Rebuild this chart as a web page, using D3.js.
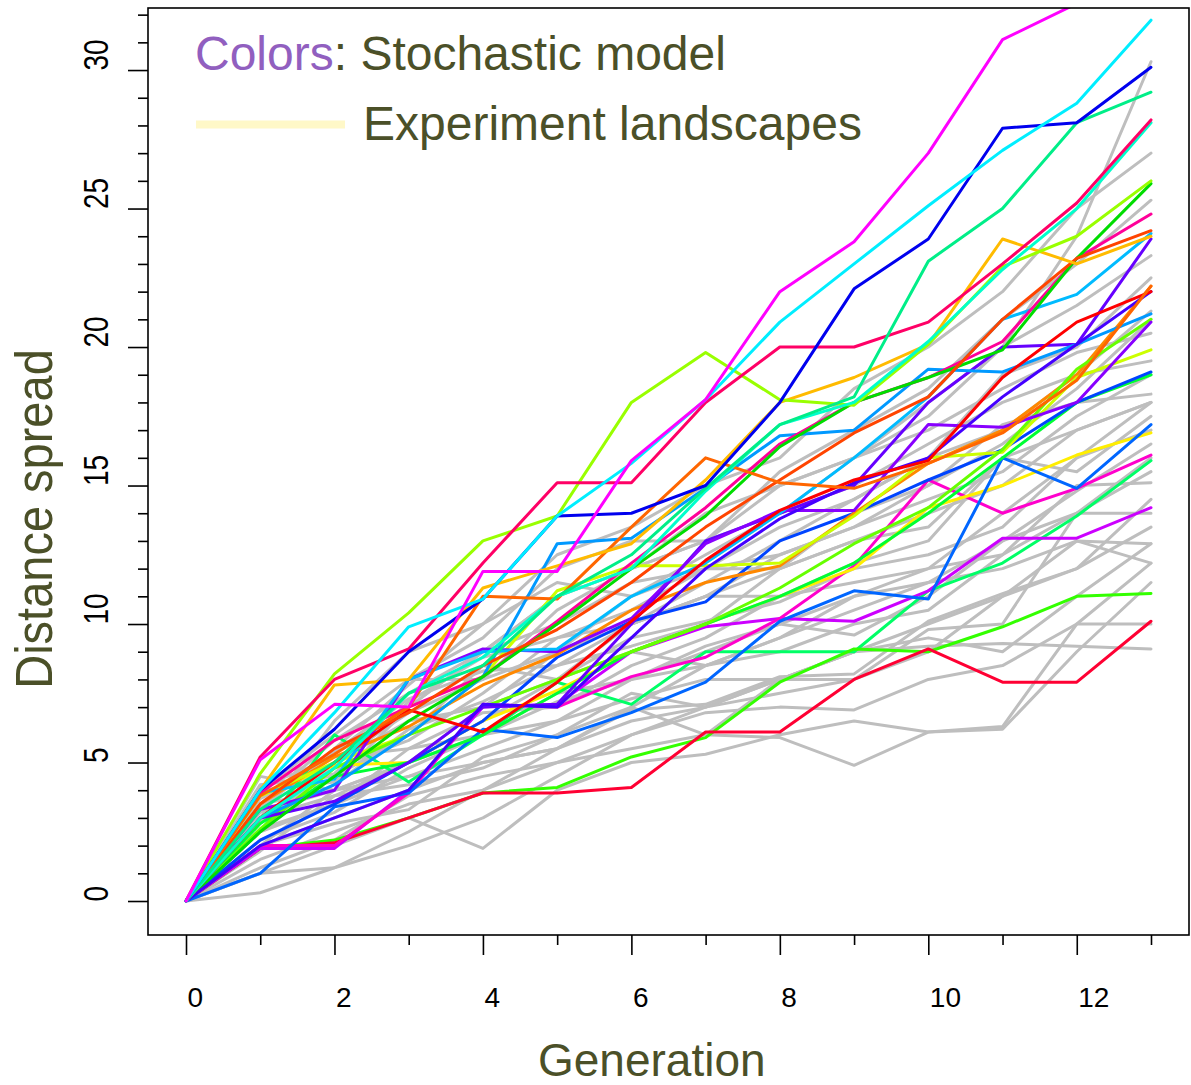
<!DOCTYPE html>
<html>
<head>
<meta charset="utf-8">
<script src="https://cdn.jsdelivr.net/npm/d3@7"></script>
<style>
  html, body { margin: 0; padding: 0; background: #ffffff; }
  svg text { font-family: "Liberation Sans", Arial, Helvetica, sans-serif; }
</style>
</head>
<body>
<svg id="chart" width="1191" height="1085"></svg>
<script>
// ---------- data ----------
const generation = [0, 1, 2, 3, 4, 5, 6, 7, 8, 9, 10, 11, 12, 13];
const xTickValues = [0, 1, 2, 3, 4, 5, 6, 7, 8, 9, 10, 11, 12, 13];
const xTickLabels = ["0", "", "2", "", "4", "", "6", "", "8", "", "10", "", "12", ""];
const yMajorTicks = [0, 5, 10, 15, 20, 25, 30];
const yMinorTicks = [0,1,2,3,4,5,6,7,8,9,10,11,12,13,14,15,16,17,18,19,20,21,22,23,24,25,26,27,28,29,30,31,32];

// Experiment landscapes (gray)
const exp01 = [0, 0.3, 1.2, 2.0, 3.0, 4.5, 6.0, 7.0, 8.0, 9.0, 9.2, 9.3, 9.2, 9.1];
const exp02 = [0, 1.0, 1.2, 2.5, 4.0, 5.0, 5.5, 6.0, 5.9, 4.9, 6.1, 6.3, 10.0, 12.2];
const exp03 = [0, 1.0, 2.0, 3.0, 1.9, 4.0, 5.0, 5.3, 6.0, 6.5, 6.1, 6.2, 9.0, 11.5];
const exp04 = [0, 1.5, 2.5, 3.5, 4.0, 5.5, 6.5, 7.0, 7.5, 8.0, 9.0, 11.0, 13.0, 12.9];
const exp05 = [0, 2.0, 3.0, 4.0, 5.0, 5.5, 6.9, 7.1, 8.1, 8.2, 10.1, 11.1, 12.0, 13.5];
const exp06 = [0, 2.5, 3.5, 4.5, 5.5, 6.5, 7.3, 8.0, 8.0, 8.0, 9.8, 10.0, 14.0, 14.0];
const exp07 = [0, 3.0, 3.8, 4.2, 4.8, 6.0, 7.0, 8.5, 9.0, 10.0, 10.5, 12.5, 15.0, 15.1];
const exp08 = [0, 2.2, 3.2, 4.8, 6.0, 7.2, 8.0, 9.0, 10.0, 9.6, 11.0, 13.0, 14.8, 16.5];
const exp09 = [0, 3.5, 4.0, 5.0, 7.0, 8.0, 9.5, 10.1, 10.8, 12.0, 12.5, 13.5, 16.0, 17.0];
const exp10 = [0, 4.2, 4.5, 6.0, 8.5, 8.0, 10.0, 11.0, 11.0, 12.2, 13.0, 16.0, 15.5, 17.5];
const exp11 = [0, 3.0, 5.0, 6.5, 7.0, 9.0, 10.0, 11.0, 12.0, 13.0, 14.0, 15.0, 17.0, 18.0];
const exp12 = [0, 4.0, 4.3, 7.0, 9.0, 10.0, 11.5, 12.0, 12.5, 13.5, 15.0, 17.2, 18.0, 18.3];
const exp13 = [0, 3.3, 5.5, 7.8, 10.0, 11.5, 11.0, 12.5, 14.0, 15.0, 16.5, 18.0, 19.0, 19.5];
const exp14 = [0, 4.5, 4.0, 8.0, 8.0, 10.5, 12.0, 13.0, 15.0, 16.0, 17.0, 18.5, 19.8, 20.5];
const exp15 = [0, 2.8, 4.8, 5.8, 7.5, 9.5, 10.0, 11.5, 13.0, 14.5, 16.0, 17.0, 19.0, 21.3];
const exp16 = [0, 3.5, 5.8, 7.5, 9.0, 11.0, 12.0, 14.0, 15.0, 16.0, 17.5, 20.0, 21.5, 23.3];
const exp17 = [0, 4.0, 6.0, 8.0, 9.5, 12.0, 13.0, 13.0, 15.5, 17.0, 18.5, 21.0, 23.0, 25.3];
const exp18 = [0, 3.0, 6.5, 9.0, 10.0, 12.5, 13.5, 15.0, 16.0, 18.5, 20.0, 22.0, 25.0, 27.0];
const exp19 = [0, 2.5, 5.0, 7.0, 9.0, 11.0, 12.0, 13.0, 14.0, 16.0, 18.0, 20.0, 24.0, 30.3];
const exp20 = [0, 1.8, 3.8, 5.0, 6.0, 6.5, 8.0, 8.5, 9.5, 10.5, 11.5, 12.0, 13.0, 12.2];
const exp21 = [0, 2.0, 2.8, 3.3, 5.2, 6.0, 7.5, 7.0, 8.0, 9.0, 10.0, 11.0, 12.0, 14.5];
const exp22 = [0, 4.1, 5.2, 5.5, 6.8, 7.0, 8.5, 9.5, 11.0, 11.5, 12.0, 14.0, 16.0, 18.0];
const exp23 = [0, 3.2, 4.0, 4.5, 5.0, 5.5, 7.0, 6.0, 8.0, 9.0, 9.5, 9.0, 11.0, 12.9];
const exp24 = [0, 2.9, 4.2, 6.2, 7.2, 8.5, 9.2, 10.0, 12.0, 13.0, 13.5, 16.0, 17.0, 18.0];
const exp25 = [0, 3.7, 5.0, 6.8, 8.0, 9.0, 11.0, 12.0, 12.0, 14.0, 15.0, 16.5, 18.5, 21.0];
const exp26 = [0, 1.2, 2.2, 3.8, 4.5, 5.0, 6.0, 6.8, 7.0, 6.9, 8.0, 8.5, 10.0, 10.0];
const exp27 = [0, 2.6, 3.5, 5.5, 6.0, 7.5, 8.0, 9.2, 10.0, 11.0, 11.5, 13.0, 14.0, 15.5];
const exp28 = [0, 3.9, 4.6, 7.2, 8.8, 9.5, 10.5, 12.0, 13.5, 14.5, 16.0, 19.0, 20.0, 22.5];
const exp29 = [0, 3.4, 5.4, 7.3, 8.3, 8.5, 10.0, 11.0, 12.5, 13.5, 14.5, 15.5, 17.5, 19.0];
const exp30 = [0, 2.0, 4.0, 5.0, 6.5, 8.0, 9.0, 8.5, 9.5, 11.0, 12.0, 12.5, 14.0, 16.0];

// Stochastic model runs (colours)
const runMagenta    = [0, 5.1, 7.1, 7.0, 11.9, 11.9, 15.9, 18.1, 22.0, 23.8, 27.0, 31.1, 32.4, 33.5];
const runCyan       = [0, 4.0, 6.8, 9.9, 10.9, 13.9, 15.8, 18.1, 20.9, 23.0, 25.1, 27.1, 28.8, 31.8];
const runBlue       = [0, 4.0, 6.2, 9.0, 10.9, 13.9, 14.0, 15.0, 18.0, 22.1, 23.9, 27.9, 28.1, 30.1];
const runSpring     = [0, 3.3, 5.0, 7.5, 8.5, 11.0, 12.5, 14.9, 17.2, 18.2, 23.1, 25.0, 28.1, 29.2];
const runTurquoise  = [0, 3.0, 4.8, 7.5, 8.8, 11.0, 12.0, 14.8, 17.2, 18.0, 20.2, 22.8, 25.0, 28.1];
const runCrimson    = [0, 5.2, 8.0, 9.1, 12.2, 15.1, 15.1, 18.0, 20.0, 20.0, 20.9, 23.0, 25.2, 28.2];
const runChartreuse = [0, 4.6, 8.2, 10.4, 13.0, 13.9, 18.0, 19.8, 18.1, 17.9, 20.1, 22.9, 24.0, 26.0];
const runAmber      = [0, 4.0, 7.8, 8.0, 11.3, 12.1, 12.9, 15.2, 18.0, 18.9, 20.1, 23.9, 23.0, 24.0];
const runOrangeRed  = [0, 3.8, 5.3, 7.0, 11.0, 10.9, 13.5, 16.0, 15.1, 14.9, 15.8, 16.9, 18.8, 22.2];
const runRedOrange  = [0, 3.5, 5.5, 6.8, 8.5, 9.8, 11.5, 13.5, 15.2, 16.9, 18.2, 21.0, 23.2, 24.2];
const runRed        = [0, 3.0, 5.0, 6.9, 6.1, 7.9, 10.1, 12.3, 14.1, 15.2, 15.9, 18.9, 20.9, 22.0];
const runIndigo     = [0, 2.0, 3.0, 4.0, 7.1, 7.0, 9.5, 12.0, 13.8, 15.1, 16.0, 18.2, 20.1, 22.0];
const runGreen      = [0, 2.5, 4.5, 6.5, 8.1, 10.0, 12.0, 13.9, 16.4, 18.0, 18.9, 19.9, 23.2, 25.9];
const runDeepPink   = [0, 3.9, 5.8, 7.0, 8.1, 10.1, 12.2, 14.2, 16.5, 18.0, 18.9, 20.2, 23.2, 24.8];
const runDodger     = [0, 3.0, 4.2, 6.0, 8.1, 12.9, 13.1, 14.9, 16.8, 17.0, 19.2, 19.1, 20.1, 21.2];
const runSkyBlue    = [0, 3.9, 4.4, 8.0, 9.0, 9.1, 11.0, 12.2, 14.0, 16.0, 18.2, 21.0, 21.9, 24.1];
const runViolet     = [0, 3.3, 4.0, 8.0, 9.1, 9.0, 10.2, 12.9, 14.1, 14.1, 17.2, 17.1, 18.0, 20.9];
const runBlueViolet = [0, 3.0, 3.6, 5.0, 7.0, 7.1, 10.0, 13.0, 14.0, 15.0, 18.0, 20.0, 20.1, 23.9];
const runLightGreen = [0, 2.6, 4.8, 6.0, 7.0, 8.0, 9.0, 10.0, 11.3, 12.9, 14.2, 16.3, 19.2, 21.0];
const runYellowGrn  = [0, 3.8, 5.0, 6.0, 8.1, 11.2, 12.1, 12.1, 12.2, 13.9, 16.0, 16.2, 18.9, 19.9];
const runOrange     = [0, 3.5, 5.2, 6.3, 7.8, 8.9, 10.5, 11.5, 12.1, 14.0, 15.8, 17.0, 19.0, 22.2];
const runBlue2      = [0, 2.2, 3.5, 5.0, 6.5, 8.8, 10.1, 10.8, 13.0, 14.0, 15.2, 16.3, 18.0, 19.1];
const runGreen2     = [0, 2.8, 4.5, 5.0, 6.0, 7.5, 9.0, 10.0, 11.0, 12.2, 14.0, 16.0, 18.0, 19.0];
const runAzure      = [0, 1.0, 3.4, 3.9, 6.2, 5.9, 6.8, 7.9, 10.1, 11.2, 10.9, 16.0, 14.9, 17.2];
const runYellow     = [0, 3.8, 4.9, 5.0, 6.5, 7.6, 9.0, 10.0, 11.0, 12.0, 14.2, 15.0, 16.1, 16.9];
const runMagenta2   = [0, 2.0, 2.0, 3.9, 7.1, 7.0, 8.1, 8.8, 10.2, 12.1, 15.2, 14.0, 14.9, 16.1];
const runPurple     = [0, 1.9, 1.9, 4.0, 7.0, 7.1, 9.0, 9.9, 10.2, 10.1, 11.2, 13.1, 13.1, 14.2];
const runSpring2    = [0, 2.5, 6.0, 4.3, 6.0, 7.9, 7.1, 9.0, 9.0, 9.0, 11.2, 12.2, 13.9, 15.9];
const runLime       = [0, 1.9, 2.2, 3.0, 3.9, 4.1, 5.2, 5.9, 7.9, 9.1, 9.0, 9.9, 11.0, 11.1];
const runRedLow     = [0, 1.9, 2.1, 3.0, 3.9, 3.9, 4.1, 6.1, 6.1, 8.0, 9.1, 7.9, 7.9, 10.1];

const experimentRuns = [exp01, exp02, exp03, exp04, exp05, exp06, exp07, exp08, exp09, exp10,
  exp11, exp12, exp13, exp14, exp15, exp16, exp17, exp18, exp19, exp20,
  exp21, exp22, exp23, exp24, exp25, exp26, exp27, exp28, exp29, exp30];
const modelRuns = [runSpring2, runLime, runRedLow, runPurple, runMagenta2, runYellow, runAzure,
  runGreen2, runBlue2, runOrange, runYellowGrn, runLightGreen, runBlueViolet, runViolet,
  runSkyBlue, runDodger, runDeepPink, runGreen, runIndigo, runRed, runRedOrange, runOrangeRed,
  runAmber, runChartreuse, runTurquoise, runCrimson, runSpring, runBlue, runCyan, runMagenta];
const modelColors = ["#00ff66", "#33ff00", "#ff0033", "#cc00ff", "#ff00cc", "#ffee00", "#0066ff",
  "#00ff33", "#0044ff", "#ff8800", "#ccff00", "#66ff00", "#6600ff", "#8800ff",
  "#00bbff", "#0099ff", "#ff0099", "#00dd00", "#4400ff", "#ff0000", "#ff4400", "#ff6600",
  "#ffbb00", "#99ff00", "#00ffcc", "#ff0066", "#00ee88", "#0000ee", "#00eeff", "#ff00ff"];

// ---------- drawing ----------
const svg = d3.select("#chart");
const plotLeft = 148, plotRight = 1189, plotTop = 8, plotBottom = 935;
const x = d3.scaleLinear().domain([-0.512, 13.512]).range([plotLeft, plotRight]);
const y = d3.scaleLinear().domain([-1.227, 32.24]).range([plotBottom, plotTop]);

svg.append("defs").append("clipPath").attr("id", "plotclip")
  .append("rect").attr("x", plotLeft).attr("y", plotTop)
  .attr("width", plotRight - plotLeft).attr("height", plotBottom - plotTop);

const line = d3.line().x((d, i) => x(generation[i])).y(d => y(d));
const plot = svg.append("g").attr("clip-path", "url(#plotclip)");

plot.selectAll("path.exp").data(experimentRuns).enter().append("path")
  .attr("class", "exp").attr("d", line)
  .attr("fill", "none").attr("stroke", "#bebebe").attr("stroke-width", 3)
  .attr("stroke-linejoin", "round").attr("stroke-linecap", "round");

plot.selectAll("path.model").data(modelRuns).enter().append("path")
  .attr("class", "model").attr("d", line)
  .attr("fill", "none").attr("stroke", (d, i) => modelColors[i]).attr("stroke-width", 3)
  .attr("stroke-linejoin", "round").attr("stroke-linecap", "round");

// frame
svg.append("rect").attr("x", plotLeft).attr("y", plotTop)
  .attr("width", plotRight - plotLeft).attr("height", plotBottom - plotTop)
  .attr("fill", "none").attr("stroke", "#000").attr("stroke-width", 1.6);

// x axis
const xMajor = svg.append("g").attr("transform", `translate(0,${plotBottom})`)
  .call(d3.axisBottom(x).tickValues(xTickValues.filter((d, i) => xTickLabels[i] !== ""))
    .tickSize(20).tickFormat(d => xTickLabels[xTickValues.indexOf(d)]));
const xMinor = svg.append("g").attr("transform", `translate(0,${plotBottom})`)
  .call(d3.axisBottom(x).tickValues(xTickValues.filter((d, i) => xTickLabels[i] === ""))
    .tickSize(10).tickFormat(""));
[xMajor, xMinor].forEach(g => {
  g.select(".domain").remove();
  g.selectAll("line").attr("stroke", "#000").attr("stroke-width", 1.6);
});
xMajor.selectAll("text").attr("x", 1).attr("y", 72).attr("dy", 0)
  .attr("text-anchor", "start").attr("fill", "#000")
  .style("font-size", "28px").style("font-family", "'Liberation Sans', Arial, sans-serif");

// y axis
const yMajor = svg.append("g").attr("transform", `translate(${plotLeft},0)`)
  .call(d3.axisLeft(y).tickValues(yMajorTicks).tickSize(20).tickFormat(d3.format("d")));
const yMinor = svg.append("g").attr("transform", `translate(${plotLeft},0)`)
  .call(d3.axisLeft(y).tickValues(yMinorTicks.filter(d => d % 5 !== 0)).tickSize(10).tickFormat(""));
[yMajor, yMinor].forEach(g => {
  g.select(".domain").remove();
  g.selectAll("line").attr("stroke", "#000").attr("stroke-width", 1.6);
});
yMajor.selectAll("text").attr("x", null).attr("dy", 0).attr("y", null)
  .attr("transform", "translate(-40,0) rotate(-90) scale(1,1.25)")
  .attr("text-anchor", "start").attr("fill", "#000")
  .style("font-size", "28px").style("font-family", "'Liberation Sans', Arial, sans-serif");

// axis titles
const titleColor = "#4b5028";
svg.append("text").attr("transform", "translate(52,519) rotate(-90) scale(1,1.1)")
  .attr("text-anchor", "middle").attr("fill", titleColor)
  .style("font-size", "47px").text("Distance spread");
svg.append("text").attr("x", 538).attr("y", 1076)
  .attr("text-anchor", "start").attr("fill", titleColor)
  .style("font-size", "46px").text("Generation");

// legend
const leg1 = svg.append("text").attr("x", 195).attr("y", 70).style("font-size", "48px");
leg1.append("tspan").attr("fill", "#915fbf").text("Colors");
leg1.append("tspan").attr("fill", titleColor).text(": Stochastic model");
svg.append("line").attr("x1", 196).attr("x2", 345).attr("y1", 124.5).attr("y2", 124.5)
  .attr("stroke", "#fff8c8").attr("stroke-width", 8);
svg.append("text").attr("x", 363).attr("y", 140).attr("fill", titleColor)
  .style("font-size", "48px").text("Experiment landscapes");
</script>
</body>
</html>
